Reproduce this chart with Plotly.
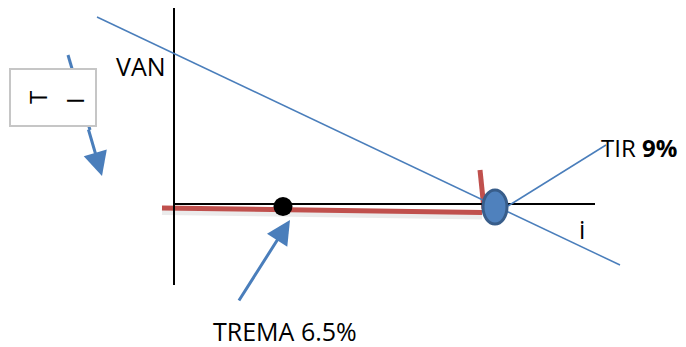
import plotly.graph_objects as go

# Diagram geometry (canvas units)
axis_v_x = [174, 174]
axis_v_y = [8, 285]
axis_h_x = [174, 595]
axis_h_y = [204, 204]

van_x = [97, 620]
van_y = [17, 265]

tir_line_x = [508, 606]
tir_line_y = [206, 145]

red_h_x = [162, 482]
red_h_y = [208, 212.5]
red_v_x = [480, 484]
red_v_y = [170, 209]

trema_pt_x = [283]
trema_pt_y = [206.5]

tir_pt = (495, 207)

labels = {
    "VAN": (114, 66),
    "TIR <b>9%</b>": (601, 147),
    "i": (582, 229),
    "TREMA 6.5%": (285, 331),
}

BLUE = "#4a7ebb"
RED = "#c0504d"
FONT = "Open Sans"
FS = 25

# page body has an 8px margin: offset the canvas so coordinates match the page
OFF = 8
W, H = 686, 347

fig = go.Figure()

# red line shadow
fig.add_trace(go.Scatter(x=red_h_x, y=[v + 4 for v in red_h_y], mode="lines",
                         line=dict(color="rgba(0,0,0,0.08)", width=6), hoverinfo="skip"))
fig.add_trace(go.Scatter(x=red_h_x, y=red_h_y, mode="lines",
                         line=dict(color=RED, width=5), hoverinfo="skip"))
fig.add_trace(go.Scatter(x=red_v_x, y=red_v_y, mode="lines",
                         line=dict(color=RED, width=5), hoverinfo="skip"))
# axes
fig.add_trace(go.Scatter(x=axis_v_x, y=axis_v_y, mode="lines",
                         line=dict(color="black", width=2), hoverinfo="skip"))
fig.add_trace(go.Scatter(x=axis_h_x, y=axis_h_y, mode="lines",
                         line=dict(color="black", width=2), hoverinfo="skip"))
# VAN line
fig.add_trace(go.Scatter(x=van_x, y=van_y, mode="lines",
                         line=dict(color=BLUE, width=1.5), hoverinfo="skip"))
fig.add_trace(go.Scatter(x=tir_line_x, y=tir_line_y, mode="lines",
                         line=dict(color=BLUE, width=1.5), hoverinfo="skip"))
# arrow shaft behind box
fig.add_trace(go.Scatter(x=[68, 90], y=[55, 130], mode="lines",
                         line=dict(color=BLUE, width=3), hoverinfo="skip"))
# TREMA point
fig.add_trace(go.Scatter(x=trema_pt_x, y=trema_pt_y, mode="markers",
                         marker=dict(color="black", size=19), hoverinfo="skip"))

# TIR ellipse
fig.add_shape(type="circle", xref="x", yref="y",
              x0=tir_pt[0] - 12, x1=tir_pt[0] + 12, y0=tir_pt[1] - 17, y1=tir_pt[1] + 17,
              fillcolor="#4f81bd", line=dict(color="#385d8a", width=3), layer="above")
# box
fig.add_shape(type="rect", xref="x", yref="y", x0=10, x1=96, y0=69, y1=126,
              fillcolor="white", line=dict(color="#c6c6c6", width=2), layer="above")

# arrows
fig.add_annotation(x=102, y=176, ax=88, ay=128, xref="x", yref="y", axref="x", ayref="y",
                   showarrow=True, arrowhead=2, arrowsize=1.6, arrowwidth=3, arrowcolor=BLUE, text="")
fig.add_annotation(x=290, y=220, ax=238, ay=302, xref="x", yref="y", axref="x", ayref="y",
                   showarrow=True, arrowhead=2, arrowsize=1.6, arrowwidth=3, arrowcolor=BLUE, text="")

# box text (rotated characters)
fig.add_annotation(x=37, y=98, text="T", textangle=-90, showarrow=False,
                   font=dict(family=FONT, size=24, color="black"))
fig.add_annotation(x=74, y=101, text="I", textangle=-90, showarrow=False,
                   font=dict(family=FONT, size=24, color="black"))

# labels
fig.add_annotation(x=labels["VAN"][0], y=labels["VAN"][1], text="VAN", showarrow=False,
                   xanchor="left", yanchor="middle", font=dict(family=FONT, size=FS, color="black"))
fig.add_annotation(x=labels["TIR <b>9%</b>"][0], y=labels["TIR <b>9%</b>"][1], text="TIR <b>9%</b>",
                   showarrow=False, xanchor="left", yanchor="middle", borderpad=0, borderwidth=0,
                   font=dict(family=FONT, size=24, color="black"))
fig.add_annotation(x=labels["i"][0], y=labels["i"][1], text="i", showarrow=False,
                   xanchor="center", yanchor="middle", font=dict(family=FONT, size=FS, color="black"))
fig.add_annotation(x=labels["TREMA 6.5%"][0], y=labels["TREMA 6.5%"][1], text="TREMA 6.5%",
                   showarrow=False, xanchor="center", yanchor="middle",
                   font=dict(family=FONT, size=FS, color="black"))

fig.update_layout(
    width=W - OFF, height=H - OFF, margin=dict(l=0, r=0, t=0, b=0),
    paper_bgcolor="white", plot_bgcolor="white", showlegend=False,
    xaxis=dict(range=[OFF, W], visible=False, fixedrange=True),
    yaxis=dict(range=[H, OFF], visible=False, fixedrange=True),
)

fig.write_html("out.html")
